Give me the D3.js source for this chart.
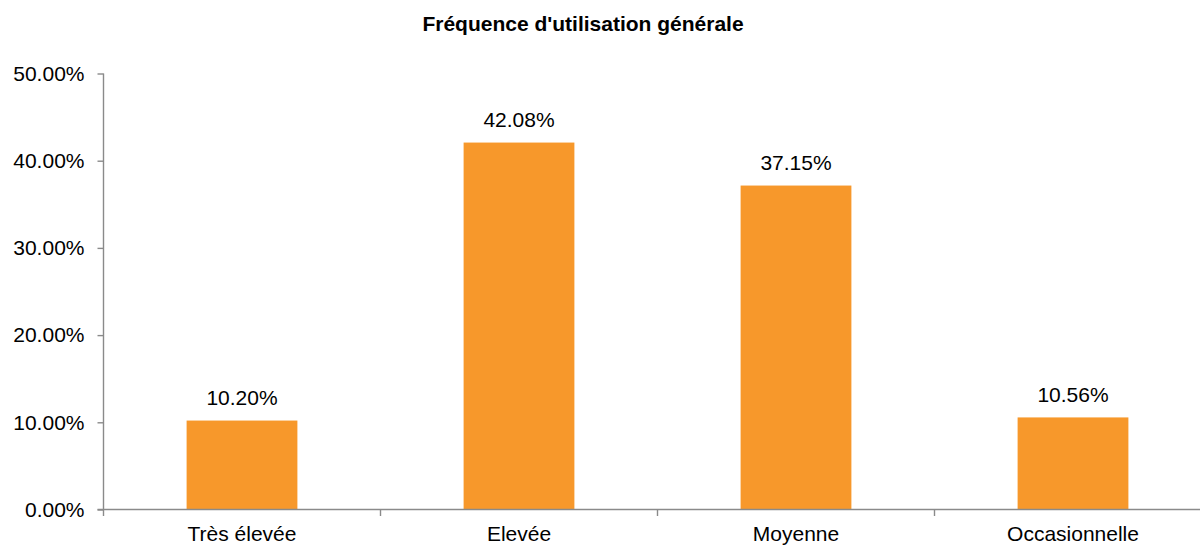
<!DOCTYPE html>
<meta charset="utf-8">
<style>
  html, body { margin: 0; background: #fff; }
  svg text { font-family: "Liberation Sans", Arial, sans-serif; fill: #000; }
</style>
<body>
<script src="https://cdn.jsdelivr.net/npm/d3@7"></script>
<script>
  // chart data
  var categories = ["Très élevée", "Elevée", "Moyenne", "Occasionnelle"];
  var values = [10.20, 42.08, 37.15, 10.56];
  var yTicks = [0, 10, 20, 30, 40, 50];
  var title = "Fréquence d'utilisation générale";

  var W = 1200, H = 545;
  var x0 = 103.5, x1 = 1211.5, yBottom = 509.5, yTop = 73.5;

  var svg = d3.select("body").append("svg")
    .attr("width", W)
    .attr("height", H);

  // scales
  var x = d3.scaleBand().domain(categories).range([x0, x1]).padding(0);
  var xBar = d3.scaleBand().domain(categories).range([x0, x1])
    .paddingInner(0.6).paddingOuter(0.3);
  var y = d3.scaleLinear().domain([0, 50]).range([yBottom, yTop]);

  // title
  svg.append("text")
    .attr("x", 583)
    .attr("y", 31)
    .attr("text-anchor", "middle")
    .style("font-weight", "bold")
    .style("font-size", "21px")
    .text(title);

  // bars
  svg.selectAll(".bar")
    .data(values)
    .enter().append("rect")
    .attr("class", "bar")
    .attr("x", function (d, i) { return xBar(categories[i]); })
    .attr("width", xBar.bandwidth())
    .attr("y", function (d) { return y(d); })
    .attr("height", function (d) { return yBottom - y(d); })
    .attr("fill", "#f7982b");

  // value labels
  svg.selectAll(".lbl")
    .data(values)
    .enter().append("text")
    .attr("class", "lbl")
    .attr("x", function (d, i) { return xBar(categories[i]) + xBar.bandwidth() / 2; })
    .attr("y", function (d) { return y(d) - 15.5; })
    .attr("text-anchor", "middle")
    .style("font-size", "21px")
    .text(function (d) { return d.toFixed(2) + "%"; });

  // y axis
  var gy = svg.append("g")
    .attr("transform", "translate(" + x0 + ",0)")
    .call(d3.axisLeft(y).tickValues(yTicks).tickSize(6).tickPadding(13)
      .tickFormat(function (d) { return d.toFixed(2) + "%"; }));
  gy.select(".domain").attr("d", "M0," + yTop + "V" + yBottom);

  // x axis
  var gx = svg.append("g")
    .attr("transform", "translate(0," + yBottom + ")")
    .call(d3.axisBottom(x).tickSize(0).tickPadding(17));
  gx.select(".domain").attr("d", "M" + (x0 - 6) + ",0H" + x1);
  gx.selectAll(".edge")
    .data(categories.map(function (c) { return x(c); }).concat([x1]))
    .enter().append("line")
    .attr("class", "edge")
    .attr("x1", function (d) { return d; })
    .attr("x2", function (d) { return d; })
    .attr("y1", 0)
    .attr("y2", 6.5);

  svg.selectAll(".domain, .tick line, .edge")
    .attr("stroke", "#8a8a8a")
    .attr("stroke-width", 1.4);
  svg.selectAll(".tick text")
    .style("font-size", "21px")
    .attr("fill", "#000");
</script>
</body>
